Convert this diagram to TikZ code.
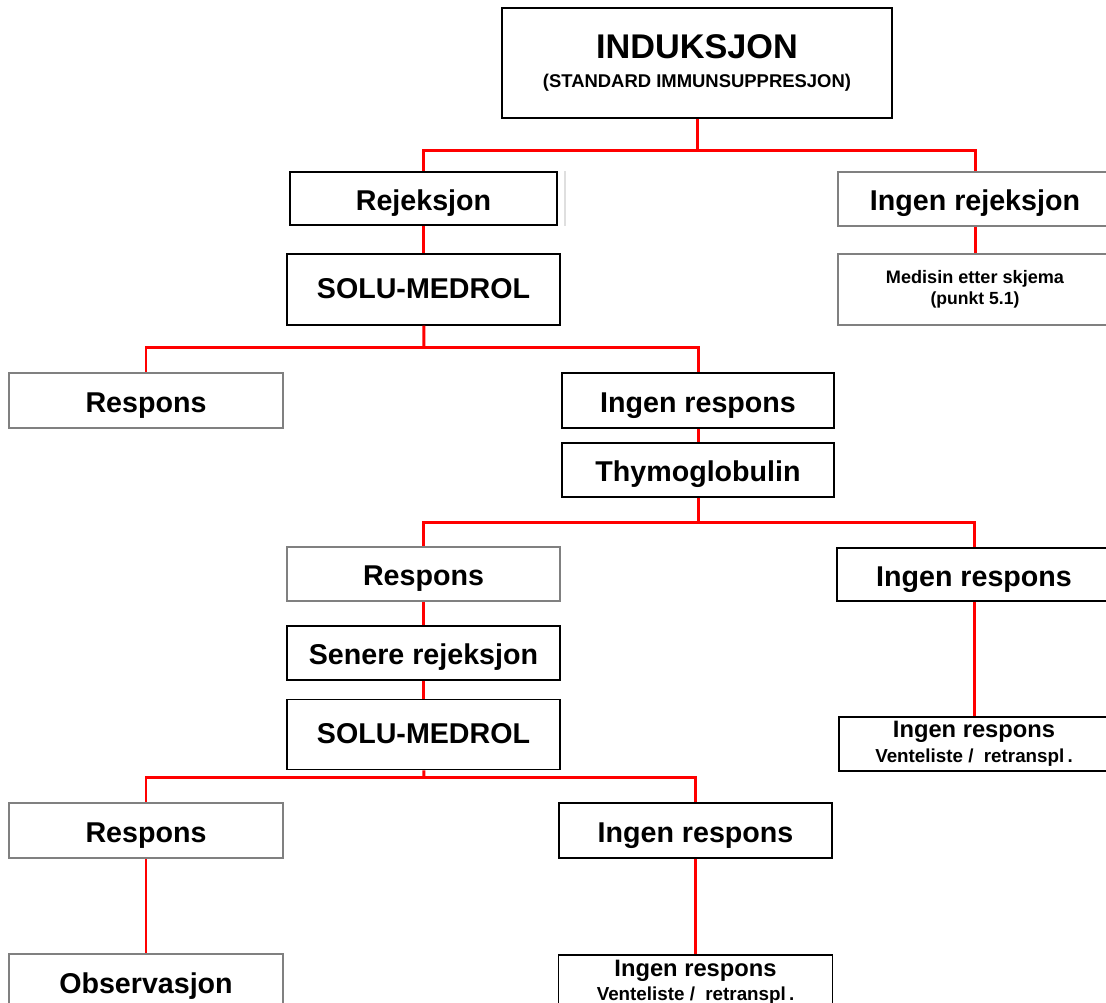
\documentclass[tikz,border=0pt]{standalone}
\usepackage{fontspec}
\setmainfont{Liberation Sans}
\usepackage{tikz}
\usetikzlibrary{positioning}
\tikzstyle{frame} = [rectangle, draw=black, line width=1pt, fill=white,
text centered, align=center, inner sep=0pt, minimum width=5.46cm, minimum height=1.08cm]
\tikzstyle{block} = [frame, text height=13.5pt, text depth=0pt,
font=\bfseries\fontsize{16.3}{19}\selectfont]
\tikzstyle{block2} = [block, draw=gray]
\tikzstyle{multi} = [frame, font=\bfseries]
\tikzstyle{line} = [draw=red, line width=1.7pt]
\tikzstyle{shade} = [draw=gray!25, line width=1pt]

\begin{document}
\begin{tikzpicture}[x=0.02cm, y=-0.02cm]
	\useasboundingbox (0,0) rectangle (1106,1002);
	\clip (0,0) rectangle (1106,1002);
	
	% Top of the tree
	\node [multi, minimum width=7.8cm, minimum height=2.2cm] (induk) at (697,63)
	{\fontsize{19.5}{13.6}\selectfont INDUKSJON\\[4pt]\fontsize{10.5}{13.6}\selectfont (STANDARD IMMUNSUPPRESJON)};
	\node [block, minimum width=5.34cm, minimum height=1.06cm] (rej) at (423.5,198.5) {Rejeksjon};
	\node [block2, minimum width=5.48cm] (ingrej) at (975,199) {Ingen rejeksjon};
	\node [block, minimum height=1.42cm, text height=10pt, below=0.54cm of rej] (solu1) {SOLU-MEDROL};
	\node [multi, draw=gray, minimum width=5.48cm, minimum height=1.42cm, below=0.52cm of ingrej] (medisin)
	{\fontsize{10.3}{12.3}\selectfont Medisin etter skjema\\(punkt 5.1)};
	
	% Second level
	\node [block2, minimum width=5.48cm, minimum height=1.1cm] (resp1) at (146,400.5) {Respons};
	\node [block, minimum width=5.44cm, minimum height=1.1cm] (ingresp1) at (698,400.5) {Ingen respons};
	\node [block, minimum width=5.44cm, below=0.26cm of ingresp1] (thymo) {Thymoglobulin};
	
	% Third level
	\node [block2] (resp2) at (423.5,574) {Respons};
	\node [block, minimum width=5.48cm, minimum height=1.06cm] (ingresp2) at (974,574.5) {Ingen respons};
	\node [block, below=0.46cm of resp2] (senere) {Senere rejeksjon};
	\node [block, minimum height=1.4cm, text height=10pt, below=0.36cm of senere] (solu2) {SOLU-MEDROL};
	\node [multi, minimum width=5.4cm, below=2.28cm of ingresp2] (venteright)
	{\fontsize{13.5}{13}\selectfont Ingen respons\\[2pt]\fontsize{10.7}{13}\selectfont Venteliste /\ \ retranspl\,.};
	
	% Bottom level
	\node [block2, minimum width=5.48cm, minimum height=1.1cm] (resp3) at (146,830.5) {Respons};
	\node [block, minimum height=1.1cm] (ingresp3) at (695.5,830.5) {Ingen respons};
	\node [block2, minimum width=5.48cm, minimum height=1.1cm, below=1.88cm of resp3] (obs) {Observasjon};
	\node [multi, minimum width=5.48cm, minimum height=1.1cm, below=1.9cm of ingresp3] (ventebot)
	{\fontsize{13.5}{13}\selectfont Ingen respons\\[2pt]\fontsize{10.7}{13}\selectfont Venteliste /\ \ retranspl\,.};
	
	% Forks
	\coordinate (fork1) at (697,150);
	\coordinate (fork2) at (424,347);
	\coordinate (fork3) at (698,522);
	\coordinate (fork4) at (424,777);
	
	% Edges
	\path [line] (induk) -- (fork1);
	\path [line] (rej.north) |- (fork1) -| (ingrej.north);
	\path [line] (rej) -- (solu1);
	\path [line] (ingrej) -- (medisin);
	\path [line] (solu1) -- (fork2);
	\path [line] (resp1.north) |- (fork2) -| (ingresp1.north);
	\path [line] (ingresp1) -- (thymo);
	\path [line] (thymo) -- (fork3);
	\path [line] (resp2.north) |- (fork3) -| (ingresp2.north);
	\path [line] (resp2) -- (senere);
	\path [line] (senere) -- (solu2);
	\path [line] (ingresp2) -- (venteright);
	\path [line] (solu2) -- (fork4);
	\path [line] (resp3.north) |- (fork4) -| (ingresp3.north);
	\path [line] (resp3) -- (obs);
	\path [line] (ingresp3) -- (ventebot);
	
	% Faint edge beside Rejeksjon
	\path [shade] ([xshift=0.14cm]rej.north east) -- ([xshift=0.14cm]rej.south east);
	
\end{tikzpicture}
\end{document}
